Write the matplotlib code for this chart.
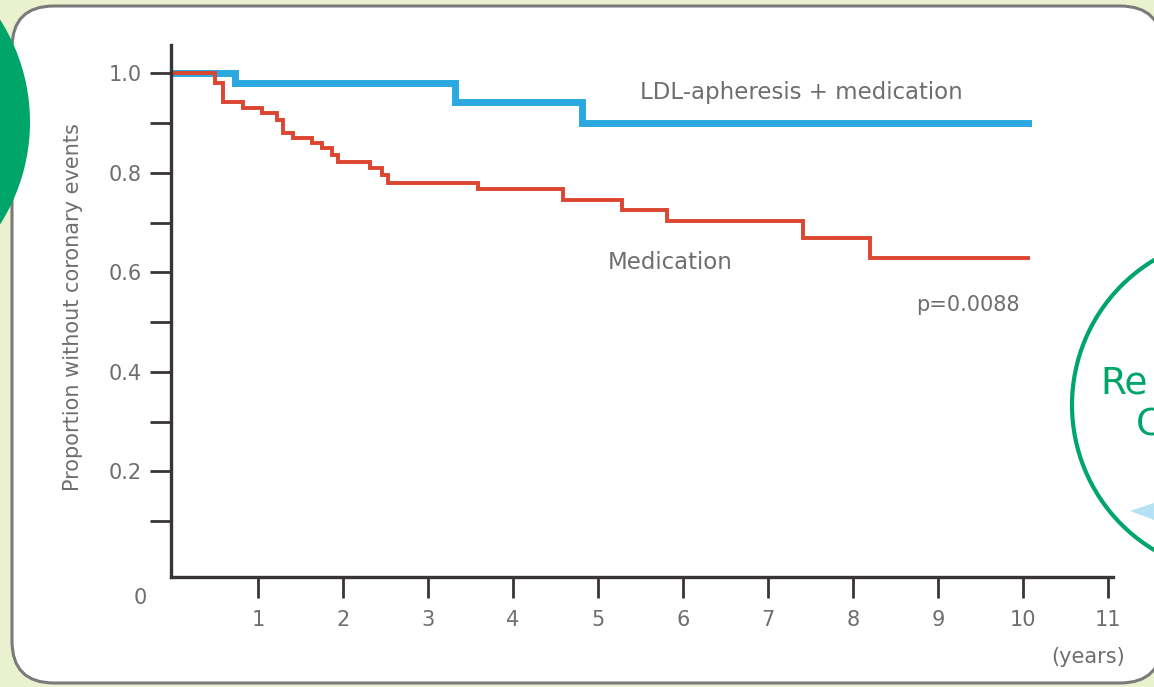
"""Kaplan-Meier style comparison: LDL-apheresis + medication vs medication."""

import matplotlib

matplotlib.use("Agg")
import matplotlib.pyplot as plt
from matplotlib.patches import Circle, FancyBboxPatch, Polygon

# step curves (time in years, proportion without coronary events)
apheresis_times = [0.0, 0.73, 3.32, 4.81, 10.06]
apheresis_surv = [1.0, 0.981, 0.943, 0.900, 0.900]

medication_times = [
    0.0, 0.49, 0.59, 0.82, 1.05, 1.22, 1.29, 1.41, 1.64, 1.75, 1.87,
    1.94, 2.32, 2.46, 2.53, 3.59, 4.59, 5.28, 5.81, 7.41, 8.20, 10.06,
]
medication_surv = [
    1.0, 0.980, 0.943, 0.931, 0.921, 0.907, 0.880, 0.870, 0.860, 0.850, 0.836,
    0.822, 0.810, 0.796, 0.780, 0.768, 0.746, 0.726, 0.704, 0.669, 0.629, 0.629,
]

x_ticks = list(range(1, 12))
y_major = [0.2, 0.4, 0.6, 0.8, 1.0]
y_minor = [0.1, 0.3, 0.5, 0.7, 0.9]
y_labels = ["0.2", "0.4", "0.6", "0.8", "1.0"]

BLUE = "#2ba8df"
RED = "#dc4530"
GREEN = "#00a56a"
TEXT = "#6e6e6e"
AXIS = "#3a3535"

plt.rcParams["font.family"] = ["Liberation Sans Narrow", "DejaVu Sans"]

fig = plt.figure(figsize=(11.54, 6.87), dpi=100)
fig.patch.set_facecolor("#eaf1cf")

# decoration layer in pixel coordinates
bg = fig.add_axes([0, 0, 1, 1])
bg.set_xlim(0, 1154)
bg.set_ylim(687, 0)
bg.axis("off")
bg.add_patch(
    FancyBboxPatch(
        (12, 6), 1150, 677,
        boxstyle="round,pad=0,rounding_size=42",
        facecolor="white", edgecolor="#7a7a7a", linewidth=2.2,
    )
)
bg.add_patch(Circle((-160, 122), 190, facecolor=GREEN, edgecolor="none"))
bg.add_patch(Circle((1241, 405), 169, facecolor="white", edgecolor=GREEN, linewidth=3.0))
bg.add_patch(Polygon([(1130, 511), (1154, 503), (1154, 520)], facecolor="#b5e2f5", edgecolor="none"))
bg.text(1100, 383, "Re", color=GREEN, fontsize=27, family="DejaVu Sans", va="center", ha="left")
bg.text(1136, 426, "C", color=GREEN, fontsize=27, family="DejaVu Sans", va="center", ha="left")
bg.text(73, 307, "Proportion without coronary events", rotation=90,
        color=TEXT, fontsize=15, ha="center", va="center")

ax = fig.add_axes([171 / 1154, 110 / 687, 942 / 1154, 532 / 687])
ax.patch.set_alpha(0)
ax.set_xlim(-0.024, 11.06)
ax.set_ylim(-0.012, 1.057)

ax.step(apheresis_times, apheresis_surv, where="post", color=BLUE, linewidth=5.0,
        solid_joinstyle="miter")
ax.step(medication_times, medication_surv, where="post", color=RED, linewidth=2.8,
        solid_joinstyle="miter")

for side in ("top", "right"):
    ax.spines[side].set_visible(False)
for side in ("left", "bottom"):
    ax.spines[side].set_color(AXIS)
    ax.spines[side].set_linewidth(2.4)

ax.set_xticks(x_ticks, [str(t) for t in x_ticks])
ax.set_yticks(y_major, y_labels)
ax.set_yticks(y_minor, minor=True)
ax.tick_params(axis="both", which="both", direction="out", length=15, width=2.0,
               color=AXIS, labelcolor=TEXT, labelsize=15)
ax.tick_params(axis="x", pad=9)
ax.tick_params(axis="y", pad=6)

ax.text(-0.39, -0.054, "0", color=TEXT, fontsize=15, ha="center", va="center", clip_on=False)
ax.text(5.49, 0.961, "LDL-apheresis + medication", color=TEXT, fontsize=16.5, ha="left", va="center")
ax.text(5.11, 0.619, "Medication", color=TEXT, fontsize=16.5, ha="left", va="center")
ax.text(9.96, 0.535, "p=0.0088", color=TEXT, fontsize=15, ha="right", va="center")
ax.text(11.2, -0.173, "(years)", color=TEXT, fontsize=15, ha="right", va="center", clip_on=False)

fig.savefig("out.png", dpi=100, facecolor=fig.get_facecolor())
